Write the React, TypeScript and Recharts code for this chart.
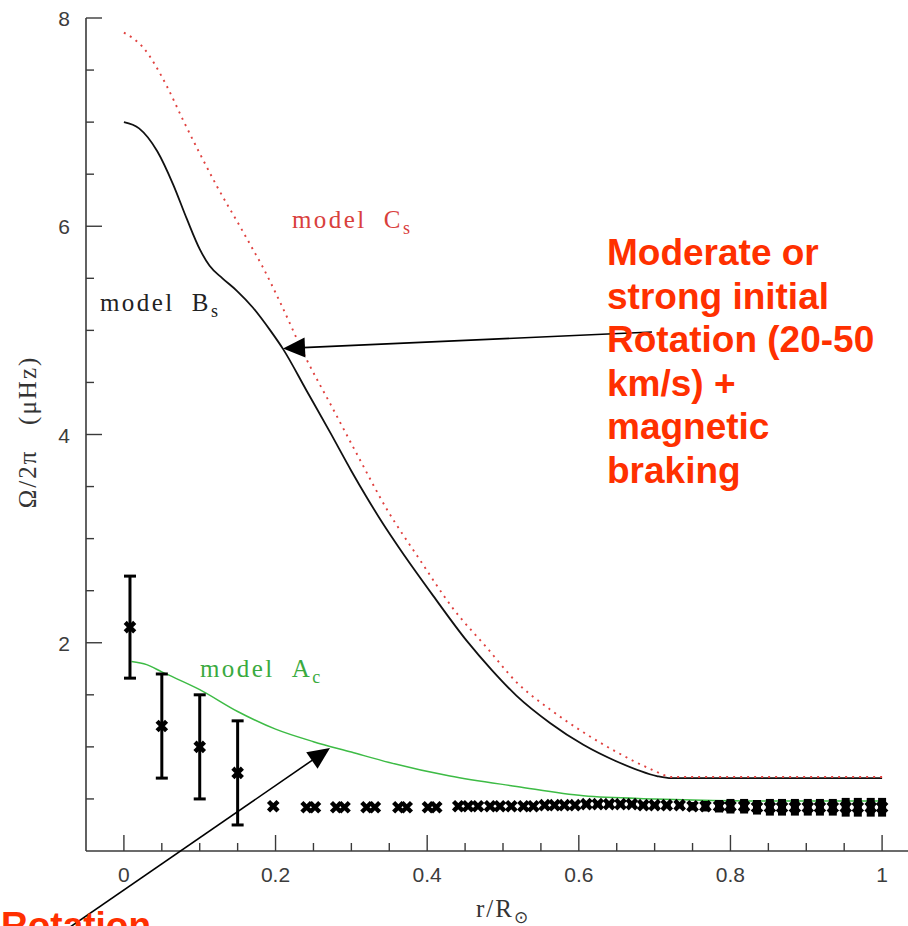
import { ComposedChart, Line, Scatter, ErrorBar, XAxis, YAxis } from "recharts";

// model B_s (solid black)
const rB = [0, 0.02, 0.044, 0.065, 0.083, 0.1, 0.113, 0.13, 0.149, 0.17, 0.193, 0.21, 0.241, 0.272, 0.3, 0.32, 0.342, 0.364, 0.408, 0.452, 0.485, 0.518, 0.562, 0.606, 0.65, 0.703, 0.722, 0.8, 0.9, 1.0];
const omegaB = [7.0, 6.94, 6.72, 6.4, 6.07, 5.78, 5.62, 5.5, 5.38, 5.22, 5.0, 4.82, 4.42, 4.02, 3.65, 3.4, 3.14, 2.9, 2.45, 2.02, 1.74, 1.49, 1.23, 1.02, 0.86, 0.72, 0.7, 0.7, 0.7, 0.7];

// model C_s (red dotted)
const rC = [0, 0.025, 0.057, 0.078, 0.1, 0.123, 0.153, 0.17, 0.183, 0.206, 0.241, 0.274, 0.306, 0.347, 0.39, 0.434, 0.479, 0.518, 0.562, 0.606, 0.65, 0.694, 0.724, 0.8, 0.9, 1.0];
const omegaC = [7.86, 7.72, 7.34, 7.02, 6.7, 6.38, 6.0, 5.78, 5.61, 5.27, 4.72, 4.27, 3.83, 3.28, 2.8, 2.33, 1.95, 1.62, 1.36, 1.14, 0.95, 0.79, 0.71, 0.71, 0.71, 0.71];

// model A_c (green)
const rA = [0.01, 0.03, 0.05, 0.1, 0.15, 0.2, 0.25, 0.3, 0.35, 0.43, 0.518, 0.606, 0.7, 0.75, 0.85, 1.0];
const omegaA = [1.82, 1.79, 1.72, 1.55, 1.34, 1.17, 1.05, 0.95, 0.85, 0.72, 0.62, 0.53, 0.5, 0.49, 0.48, 0.48];

// core observations with error bars
const rObs = [0.008, 0.05, 0.1, 0.15];
const omegaObs = [2.15, 1.2, 1.0, 0.75];
const errObs = [0.49, 0.5, 0.5, 0.5];

// helioseismic inversion points
const rInv = [0.197, 0.241, 0.252, 0.28, 0.291, 0.32, 0.331, 0.362, 0.373, 0.401, 0.412, 0.441, 0.454, 0.467, 0.483, 0.496, 0.511, 0.527, 0.54, 0.555, 0.568, 0.581, 0.595, 0.61, 0.625, 0.64, 0.655, 0.67, 0.685, 0.7, 0.716, 0.733, 0.75, 0.767, 0.785, 0.8, 0.818, 0.835, 0.852, 0.868, 0.885, 0.902, 0.918, 0.935, 0.952, 0.968, 0.985, 1.0];
const omegaInv = [0.43, 0.42, 0.42, 0.42, 0.42, 0.42, 0.42, 0.42, 0.42, 0.42, 0.42, 0.43, 0.43, 0.43, 0.43, 0.43, 0.43, 0.43, 0.43, 0.44, 0.44, 0.44, 0.44, 0.45, 0.45, 0.45, 0.45, 0.45, 0.44, 0.44, 0.44, 0.44, 0.43, 0.43, 0.43, 0.43, 0.43, 0.42, 0.42, 0.42, 0.42, 0.42, 0.42, 0.42, 0.42, 0.42, 0.42, 0.42];
const errInv = [0, 0, 0, 0, 0, 0, 0, 0, 0, 0, 0, 0, 0, 0, 0, 0, 0, 0, 0, 0, 0, 0, 0, 0.01, 0.01, 0.01, 0.01, 0.02, 0.02, 0.02, 0.02, 0.03, 0.04, 0.05, 0.06, 0.07, 0.07, 0.07, 0.08, 0.08, 0.08, 0.08, 0.08, 0.08, 0.09, 0.09, 0.09, 0.09];

const xTicks = [0, 0.05, 0.1, 0.15, 0.2, 0.25, 0.3, 0.35, 0.4, 0.45, 0.5, 0.55, 0.6, 0.65, 0.7, 0.75, 0.8, 0.85, 0.9, 0.95, 1];
const yTicks = [0.5, 1, 1.5, 2, 2.5, 3, 3.5, 4, 4.5, 5, 5.5, 6, 6.5, 7, 7.5, 8];

const annotationRight = ["Moderate or", "strong initial", "Rotation (20-50", "km/s) +", "magnetic", "braking"];

const toPoints = (rs: number[], ys: number[], errs?: number[]) =>
  rs.map((r, i) => ({ r, y: ys[i], err: errs ? errs[i] : 0 }));

const dataB = toPoints(rB, omegaB);
const dataC = toPoints(rC, omegaC);
const dataA = toPoints(rA, omegaA);
const dataObs = toPoints(rObs, omegaObs, errObs);
const dataInv = toPoints(rInv, omegaInv, errInv);

const AXIS = "#3a3a3a";
const TICK_FONT = { fontFamily: "'Liberation Sans', Arial, sans-serif", fontSize: 21, fill: "#3c3c3c" };
const SERIF = "'Liberation Serif', 'Times New Roman', serif";
const ANNOT = "#ff3000";
const BOLD_SANS = "'Liberation Sans', Arial, sans-serif";

function isMajor(v: number, step: number) {
  return Math.abs(v / step - Math.round(v / step)) < 1e-6;
}

function fmtX(v: number) {
  if (Math.abs(v) < 1e-9) return "0";
  if (Math.abs(v - 1) < 1e-9) return "1";
  return v.toFixed(1);
}

function BottomTick(props: any) {
  const { x, y, payload } = props;
  const major = isMajor(payload.value, 0.2);
  return (
    <g>
      <line x1={x} x2={x} y1={y} y2={y - (major ? 16 : 8)} stroke={AXIS} strokeWidth={1.4} />
      {major && (
        <text x={x} y={y + 31} textAnchor="middle" {...TICK_FONT}>
          {fmtX(payload.value)}
        </text>
      )}
    </g>
  );
}

function TopTick(props: any) {
  const { x, y, payload } = props;
  const major = isMajor(payload.value, 0.2);
  return <line x1={x} x2={x} y1={y} y2={y + (major ? 16 : 8)} stroke={AXIS} strokeWidth={1.4} />;
}

function LeftTick(props: any) {
  const { x, y, payload } = props;
  const major = isMajor(payload.value, 2);
  return (
    <g>
      <line x1={x} x2={x + (major ? 16 : 8)} y1={y} y2={y} stroke={AXIS} strokeWidth={1.4} />
      {major && (
        <text x={x - 16} y={y + 8} textAnchor="end" {...TICK_FONT}>
          {payload.value}
        </text>
      )}
    </g>
  );
}

function RightTick(props: any) {
  const { x, y, payload } = props;
  const major = isMajor(payload.value, 2);
  return <line x1={x} x2={x - (major ? 16 : 8)} y1={y} y2={y} stroke={AXIS} strokeWidth={1.4} />;
}

// bold "✖" marker
function Cross(props: any) {
  const { cx, cy } = props;
  if (cx == null || cy == null) return <g />;
  const s = 3.2;
  return (
    <path
      d={`M${cx - s},${cy - s}L${cx + s},${cy + s}M${cx - s},${cy + s}L${cx + s},${cy - s}`}
      stroke="#000"
      strokeWidth={4.4}
      strokeLinecap="square"
    />
  );
}

function Arrow({ x1, y1, x2, y2 }: { x1: number; y1: number; y2: number; x2: number }) {
  const len = Math.hypot(x2 - x1, y2 - y1);
  const ux = (x2 - x1) / len;
  const uy = (y2 - y1) / len;
  const hl = 22;
  const hw = 10;
  const bx = x2 - ux * hl;
  const by = y2 - uy * hl;
  const pts = `${x2},${y2} ${bx - uy * hw},${by + ux * hw} ${bx + uy * hw},${by - ux * hw}`;
  return (
    <g>
      <line x1={x1} y1={y1} x2={bx + ux * 2} y2={by + uy * 2} stroke="#000" strokeWidth={1.6} />
      <polygon points={pts} fill="#000" />
    </g>
  );
}

function ModelLabel({ x, y, main, sub, color }: { x: number; y: number; main: string; sub: string; color: string }) {
  return (
    <text x={x} y={y} fontFamily={SERIF} fontSize={25} letterSpacing={2.4} fill={color}>
      model{"\u00a0\u00a0"}
      {main}
      <tspan fontSize={18} dy={6} letterSpacing={0}>
        {sub}
      </tspan>
    </text>
  );
}

export default function App() {
  return (
    <div style={{ position: "absolute", left: 0, top: 0, width: 908, height: 926, overflow: "hidden", background: "#fff" }}>
      <ComposedChart width={940} height={926} margin={{ top: 18, right: 20, bottom: 0, left: 0 }}>
        <XAxis
          xAxisId="b"
          dataKey="r"
          type="number"
          domain={[-0.05, 1.05]}
          allowDataOverflow
          ticks={xTicks}
          tickSize={0}
          tickMargin={0}
          tickLine={false}
          tick={<BottomTick />}
          interval={0}
          height={75}
          axisLine={{ stroke: AXIS, strokeWidth: 1.6 }}
        />
        <XAxis
          xAxisId="t"
          orientation="top"
          type="number"
          domain={[-0.05, 1.05]}
          allowDataOverflow
          ticks={xTicks}
          tickSize={0}
          tickMargin={0}
          tickLine={false}
          tick={<TopTick />}
          interval={0}
          height={0}
          axisLine={{ stroke: AXIS, strokeWidth: 1.6 }}
        />
        <YAxis
          yAxisId="l"
          dataKey="y"
          type="number"
          domain={[0, 8]}
          allowDataOverflow
          ticks={yTicks}
          tickSize={0}
          tickMargin={0}
          tickLine={false}
          tick={<LeftTick />}
          interval={0}
          width={86}
          axisLine={{ stroke: AXIS, strokeWidth: 1.6 }}
        />
        <YAxis
          yAxisId="rt"
          orientation="right"
          type="number"
          domain={[0, 8]}
          allowDataOverflow
          ticks={yTicks}
          tickSize={0}
          tickMargin={0}
          tickLine={false}
          tick={<RightTick />}
          interval={0}
          width={0}
          axisLine={{ stroke: AXIS, strokeWidth: 1.6 }}
        />
        <Line
          xAxisId="b"
          yAxisId="l"
          data={dataA}
          dataKey="y"
          type="monotone"
          stroke="#3dbb45"
          strokeWidth={1.5}
          dot={false}
          isAnimationActive={false}
        />
        <Line
          xAxisId="b"
          yAxisId="l"
          data={dataB}
          dataKey="y"
          type="monotone"
          stroke="#111"
          strokeWidth={1.8}
          dot={false}
          isAnimationActive={false}
        />
        <Line
          xAxisId="b"
          yAxisId="l"
          data={dataC}
          dataKey="y"
          type="monotone"
          stroke="#e0413f"
          strokeWidth={1.9}
          strokeDasharray="2 5"
          dot={false}
          isAnimationActive={false}
        />
        <Scatter xAxisId="b" yAxisId="l" data={dataObs} dataKey="y" shape={<Cross />} isAnimationActive={false}>
          <ErrorBar dataKey="err" direction="y" width={6} stroke="#000" strokeWidth={3} />
        </Scatter>
        <Scatter xAxisId="b" yAxisId="l" data={dataInv} dataKey="y" shape={<Cross />} isAnimationActive={false}>
          <ErrorBar dataKey="err" direction="y" width={0} stroke="#000" strokeWidth={8} />
        </Scatter>
      </ComposedChart>

      <svg width={908} height={926} style={{ position: "absolute", left: 0, top: 0, pointerEvents: "none" }}>
        <ModelLabel x={292} y={228} main="C" sub="s" color="#d9403c" />
        <ModelLabel x={100} y={311} main="B" sub="s" color="#222" />
        <ModelLabel x={200} y={677} main="A" sub="c" color="#3aaa3f" />

        <text
          transform="translate(36,432) rotate(-90)"
          textAnchor="middle"
          fontFamily={SERIF}
          fontSize={25}
          letterSpacing={2}
          fill="#333"
        >
          {"Ω/2π\u00a0\u00a0\u00a0(μHz)"}
        </text>
        <text x={503} y={917} textAnchor="middle" fontFamily={SERIF} fontSize={25} letterSpacing={2} fill="#333">
          r/R
          <tspan fontSize={17} dy={6}>
            ⊙
          </tspan>
        </text>

        <Arrow x1={652} y1={332} x2={283} y2={348.5} />
        <Arrow x1={60} y1={934} x2={330} y2={748} />

        {annotationRight.map((line, i) => (
          <text key={i} x={607} y={265 + i * 43.6} fontFamily={BOLD_SANS} fontWeight="bold" fontSize={37} fill={ANNOT}>
            {line}
          </text>
        ))}
        <text x={1} y={938} fontFamily={BOLD_SANS} fontWeight="bold" fontSize={37} fill={ANNOT}>
          Rotation
        </text>
      </svg>
    </div>
  );
}
